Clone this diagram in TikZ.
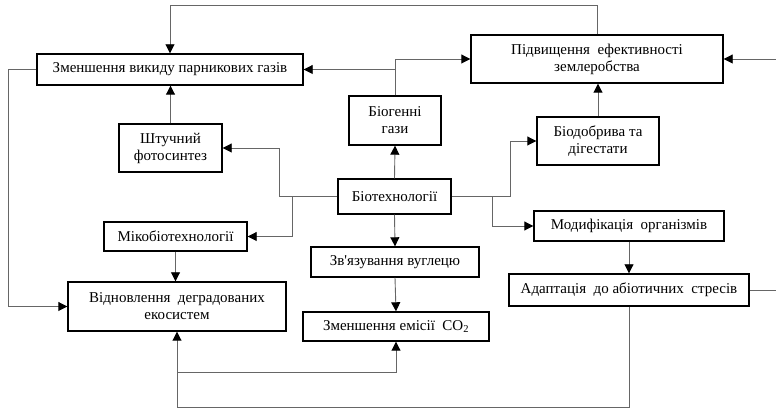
\documentclass[tikz,border=0pt]{standalone}
\usepackage{fontspec}
\setmainfont{Liberation Serif}
\usetikzlibrary{arrows.meta}

\begin{document}
\begin{tikzpicture}[x=1pt, y=1pt,
    box/.style={draw, line width=1.4pt, align=center, inner sep=2pt,
      font=\fontsize{15}{17}\selectfont},
    link/.style={draw=black!60, line width=0.9pt},
    arr/.style={link, -{Triangle[length=9pt, width=9pt, black]}}]
  \useasboundingbox (0,0) rectangle (776,409);

  % Boxes
  \node[box, minimum width=266, minimum height=31] (zmen) at (170,339.5)
    {Зменшення викиду парникових газів};
  \node[box, minimum width=252, minimum height=48] (pidv) at (597,350)
    {Підвищення \ ефективності\\землеробства};
  \node[box, minimum width=92, minimum height=49] (biog) at (395,288.5)
    {Біогенні\\гази};
  \node[box, minimum width=103, minimum height=48] (shtuch) at (170.5,261)
    {Штучний\\фотосинтез};
  \node[box, minimum width=113, minimum height=35] (biotech) at (394.5,212.5)
    {Біотехнології};
  \node[box, minimum width=122, minimum height=48] (biodobr) at (598,268)
    {Біодобрива та\\дігестати};
  \node[box, minimum width=143, minimum height=29] (miko) at (175.5,172.5)
    {Мікобіотехнології};
  \node[box, minimum width=190, minimum height=30] (modyf) at (629,183)
    {Модифікація \ організмів};
  \node[box, minimum width=168, minimum height=30] (zvyaz) at (395,147)
    {Зв\textquotesingle язування вуглецю};
  \node[box, minimum width=218, minimum height=49] (vidnov) at (177,102.5)
    {Відновлення \ деградованих\\екосистем};
  \node[box, minimum width=186, minimum height=29] (zmenco) at (396,82.5)
    {Зменшення емісії \ CO\textsubscript{2}};
  \node[box, minimum width=240, minimum height=32] (adapt) at (629,119)
    {Адаптація \ до абіотичних \ стресів};

  % Outer loops
  \coordinate (looptop) at (0,404);
  \coordinate (loopleft) at (8,0);
  \coordinate (loopright) at (790,0);
  \coordinate (loopbot) at (0,2);
  \coordinate (loopmid) at (0,37);
  \draw[arr] (pidv.north) -- (pidv.north |- looptop) -- (zmen.north |- looptop) -- (zmen.north);
  \draw[arr] (zmen.west) -- (zmen.west -| loopleft) |- (vidnov.west);
  \draw[arr] (adapt.east) -- (adapt.east -| loopright) |- (pidv.east);
  \draw[arr] (adapt.south) -- (adapt.south |- loopbot) -| (vidnov.south);
  \draw[arr] (vidnov.south |- loopmid) -| (zmenco.south);

  % From the centre
  \draw[arr] (biotech.north) -- (biog.south);
  \draw[arr] (biotech.south) -- (zvyaz.north);
  \draw[arr] (biotech.west) -- ++(-58,0) |- (shtuch.east);
  \draw[arr] (biotech.west) ++(-45,0) |- (miko.east);
  \draw[arr] (biotech.east) -- ++(59,0) |- (biodobr.west);
  \draw[arr] (biotech.east) ++(41,0) |- (modyf.west);

  % Upward and downward links
  \draw[arr] (biog.north) |- (zmen.east);
  \draw[arr] (biog.north) |- (pidv.west);
  \draw[arr] (shtuch.north) -- (shtuch.north |- zmen.south);
  \draw[arr] (biodobr.north) -- (biodobr.north |- pidv.south);
  \draw[arr] (miko.south) -- (miko.south |- vidnov.north);
  \draw[arr] (zvyaz.south) -- (zmenco.north);
  \draw[arr] (modyf.south) -- (adapt.north);

\end{tikzpicture}
\end{document}
